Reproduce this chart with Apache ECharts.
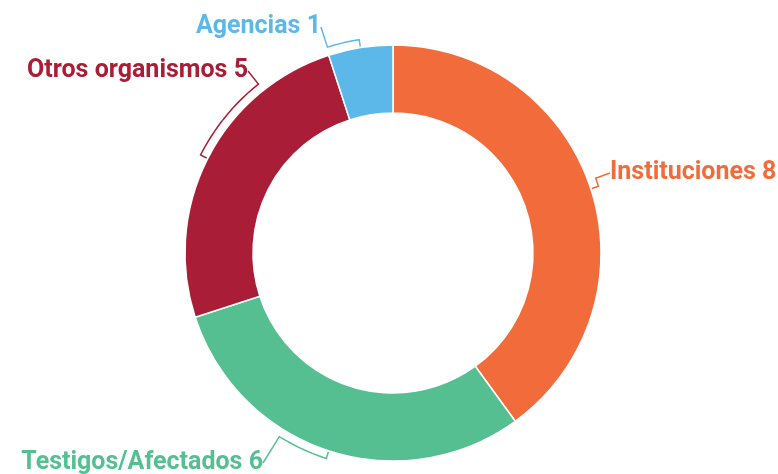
<!DOCTYPE html>
<html>
<head>
<meta charset="utf-8">
<script src="https://cdn.jsdelivr.net/npm/echarts@6/dist/echarts.min.js"></script>
<style>
  html, body { margin: 0; padding: 0; background: #fff; }
  #main { width: 778px; height: 474px; }
</style>
</head>
<body>
<div id="main"></div>
<script>
// datos del gráfico
var categorias = ['Instituciones', 'Testigos/Afectados', 'Otros organismos', 'Agencias'];
var valores = [8, 6, 5, 1];
var colores = ['#F26B3B', '#55BF92', '#A91D37', '#5DB8EA'];

// geometria del donut
var CX = 393, CY = 253, R_IN = 140, R_OUT = 208, R_BRACE = 216;
// punto donde se engancha cada etiqueta (x, y, lado)
var anclas = [[610, 173, 'left'], [263, 463, 'right'], [248, 71, 'right'], [321, 27, 'right']];

var total = valores.reduce(function (a, b) { return a + b; }, 0);

function punto(ang, r) {
    var t = ang * Math.PI / 180;
    return [CX + r * Math.sin(t), CY - r * Math.cos(t)];
}

// angulo medio de cada porción (grados, horario desde arriba)
function anguloMedio(i) {
    var acc = 0;
    for (var k = 0; k < i; k++) acc += valores[k];
    return (acc + valores[i] / 2) / total * 360;
}

function llave(i) {
    var mid = anguloMedio(i);
    var a = anclas[i];
    var fin = Math.atan2(a[0] - CX, CY - a[1]) * 180 / Math.PI;
    if (fin < 0) fin += 360;
    var pts = [punto(mid, R_OUT + 1)];
    var n = Math.max(2, Math.ceil(Math.abs(fin - mid) / 2));
    for (var k = 0; k <= n; k++) {
        pts.push(punto(mid + (fin - mid) * k / n, R_BRACE));
    }
    pts.push([a[0], a[1]]);
    return pts;
}

var datos = categorias.map(function (c, i) {
    return {
        name: c,
        value: valores[i],
        itemStyle: { color: colores[i] },
        label: { color: colores[i] },
        labelLine: { lineStyle: { color: colores[i] } }
    };
});

var chart = echarts.init(document.getElementById('main'));
var option = {
    backgroundColor: '#fff',
    animation: false,
    series: [{
        type: 'pie',
        center: [CX, CY],
        radius: [R_IN, R_OUT],
        startAngle: 90,
        clockwise: true,
        avoidLabelOverlap: false,
        itemStyle: { borderColor: '#fff', borderWidth: 1.5 },
        label: {
            show: true,
            formatter: '{b} {c}',
            fontFamily: 'Roboto',
            fontSize: 25,
            fontWeight: 'bold'
        },
        labelLine: {
            show: true,
            length: 10,
            length2: 10,
            lineStyle: { width: 1.5 }
        },
        labelLayout: function (p) {
            var i = p.dataIndex;
            var a = anclas[i];
            return {
                x: a[0],
                y: a[1],
                align: a[2],
                verticalAlign: 'middle',
                labelLinePoints: llave(i)
            };
        },
        data: datos
    }]
};
chart.setOption(option);
</script>
</body>
</html>
